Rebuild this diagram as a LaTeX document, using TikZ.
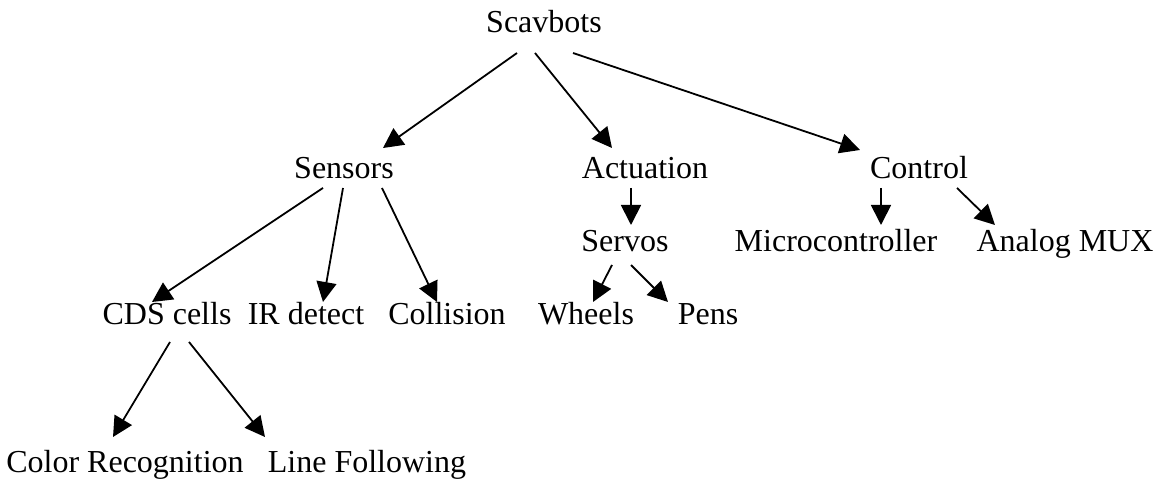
\documentclass[tikz,border=0pt]{standalone}
\usepackage{fontspec}
\setmainfont{Liberation Serif}
\usetikzlibrary{arrows.meta,calc}
\begin{document}
\begin{tikzpicture}[x=0.5pt,y=-0.5pt,every node/.style={inner sep=0pt, outer sep=0pt, anchor=base, font=\fontsize{16}{19}\selectfont},
  edge/.style={line width=0.9pt, -{Triangle[length=10pt,width=10pt]}}]
\useasboundingbox (0,0) rectangle (1162,485);

\node (scav) at (544,33) {Scavbots};
\node (sens) at (344,179) {Sensors};
\node (act) at (645,179) {Actuation};
\node (ctrl) at (919,179) {Control};
\node (servo) at (625,252) {Servos};
\node (micro) at (836,252) {Microcontroller};
\node (mux) at (1065,252) {Analog MUX};
\node (cds) at (167,325) {CDS cells};
\node (ir) at (306,325) {IR detect};
\node (coll) at (447,325) {Collision};
\node (wheel) at (586,325) {Wheels};
\node (pens) at (708,325) {Pens};
\node (color) at (125,473) {Color Recognition};
\node (line) at (367,473) {Line Following};

\draw[edge] ($(scav.base)+(-27,20)$) -- ($(sens.base)+(39,-31)$);
\draw[edge] ($(scav.base)+(-9,20)$) -- ($(act.base)+(-33,-31)$);
\draw[edge] ($(scav.base)+(29,20)$) -- ($(ctrl.base)+(-59,-29)$);
\draw[edge] ($(sens.base)+(-21,9)$) -- ($(cds.base)+(-15,-23)$);
\draw[edge] ($(sens.base)+(-1,9)$) -- ($(ir.base)+(17,-23)$);
\draw[edge] ($(sens.base)+(38,9)$) -- ($(coll.base)+(-10,-23)$);
\draw[edge] ($(cds.base)+(3,17)$) -- ($(color.base)+(-12,-36)$);
\draw[edge] ($(cds.base)+(22,17)$) -- ($(line.base)+(-102,-36)$);
\draw[edge] ($(act.base)+(-14,9)$) -- ($(servo.base)+(6,-27)$);
\draw[edge] ($(ctrl.base)+(-38,9)$) -- ($(micro.base)+(45,-27)$);
\draw[edge] ($(ctrl.base)+(38,9)$) -- ($(mux.base)+(-70,-27)$);
\draw[edge] ($(servo.base)+(-13,13)$) -- ($(wheel.base)+(7,-23)$);
\draw[edge] ($(servo.base)+(6,13)$) -- ($(pens.base)+(-40,-23)$);
\end{tikzpicture}
\end{document}
